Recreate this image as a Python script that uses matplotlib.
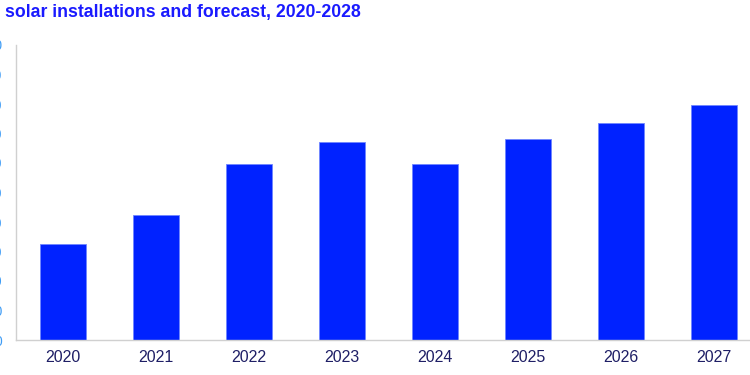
import matplotlib
matplotlib.use("Agg")
import matplotlib.pyplot as plt

years = ["2020", "2021", "2022", "2023", "2024", "2025", "2026", "2027"]
values = [32.4, 42.5, 59.7, 67.2, 59.6, 68.0, 73.5, 79.6]
yticks = [0, 10, 20, 30, 40, 50, 60, 70, 80, 90, 100]
ytick_labels = [str(v) for v in yticks]
title = "solar installations and forecast, 2020-2028"

plt.rcParams['font.family'] = ['Liberation Sans', 'DejaVu Sans']

W, H = 750, 375
fig = plt.figure(figsize=(W / 100, H / 100), dpi=100)
ax = fig.add_axes([16 / W, 35 / H, (W - 16) / W, 295 / H])

x = list(range(len(years)))
ax.bar(x, values, width=0.5, color='#0022ff', edgecolor='#6f86ff', linewidth=0.6)

ax.set_xlim(-0.505, 7.387)
ax.set_ylim(0, 100)
ax.set_xticks(x)
ax.set_xticklabels(years, fontsize=11.5, color='#1f1f66')
ax.set_yticks(yticks)
ax.set_yticklabels(ytick_labels, fontsize=10, color='#3f9cf5')
ax.tick_params(axis='x', length=0, pad=7)
ax.tick_params(axis='y', length=0, pad=10)

for s in ['top', 'right']:
    ax.spines[s].set_visible(False)
for s in ['left', 'bottom']:
    ax.spines[s].set_color('#d0d0d0')
    ax.spines[s].set_linewidth(1.0)

fig.text(5 / W, 1 - 17.5 / H, title, fontsize=12.7, fontweight='bold', color='#1a1aff',
         ha='left', va='baseline')

fig.savefig("out.png", dpi=100)
